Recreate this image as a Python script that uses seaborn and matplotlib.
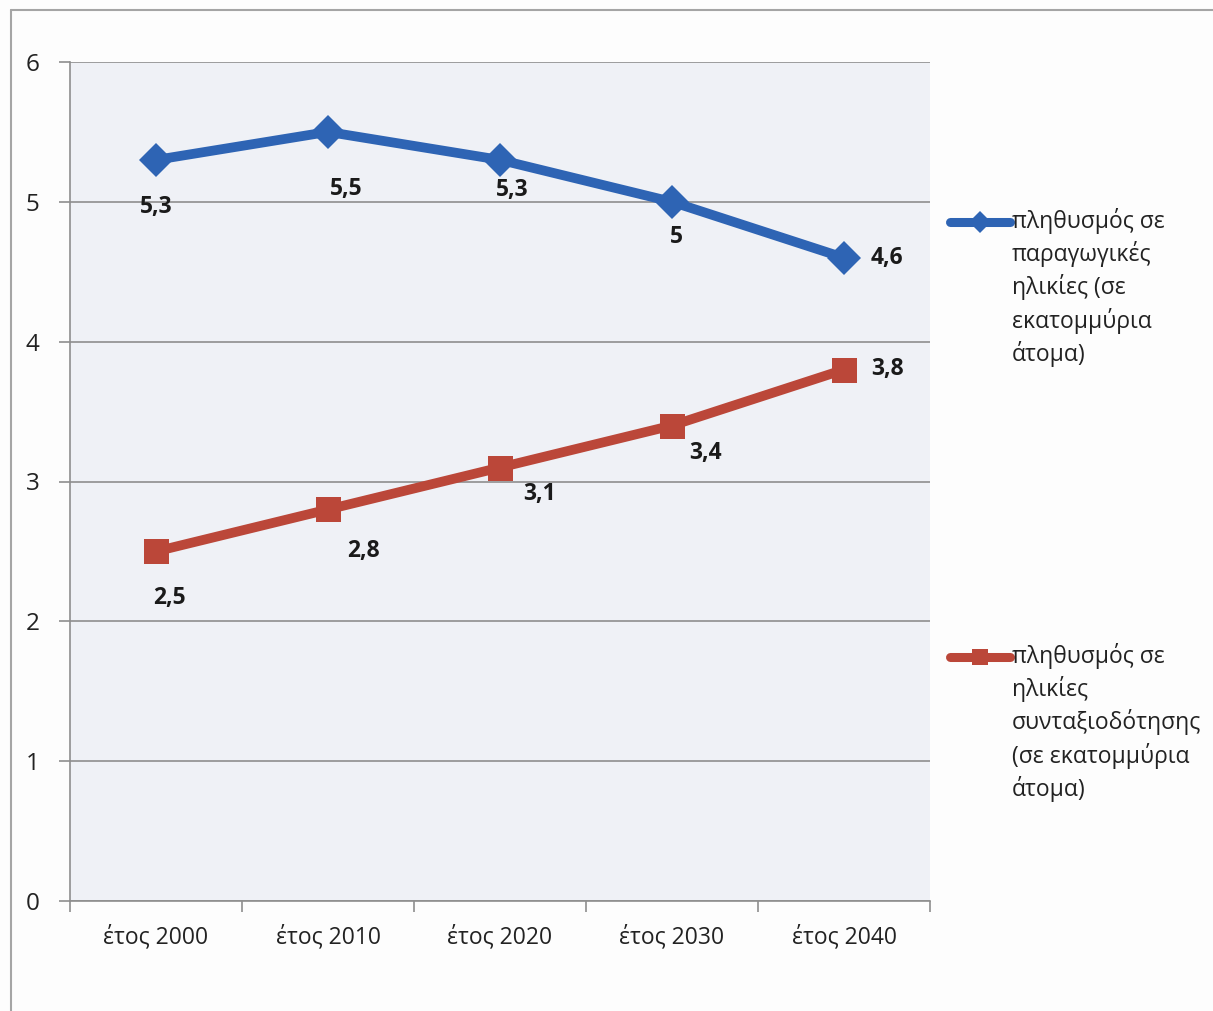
import matplotlib
matplotlib.use("Agg")
import matplotlib.pyplot as plt
import seaborn as sns
from matplotlib.lines import Line2D

# Data
years = ["έτος 2000", "έτος 2010", "έτος 2020", "έτος 2030", "έτος 2040"]
productive = [5.3, 5.5, 5.3, 5.0, 4.6]
pension = [2.5, 2.8, 3.1, 3.4, 3.8]
productive_label = "πληθυσμός σε\nπαραγωγικές\nηλικίες (σε\nεκατομμύρια\nάτομα)"
pension_label = "πληθυσμός σε\nηλικίες\nσυνταξιοδότησης\n(σε εκατομμύρια\nάτομα)"
yticks = [0, 1, 2, 3, 4, 5, 6]

# label offsets in pixels (dx, dy)
productive_offsets = [(0, -47), (18, -57), (12, -30), (4, -35), (43, 0)]
pension_offsets = [(13, -47), (35, -42), (40, -26), (33, -27), (43, 1)]

BLUE = "#2e64b4"
RED = "#bb4739"
GRID = "#8e8e8e"

sns.set_theme(style="white")
plt.rcParams["font.family"] = ["Open Sans", "DejaVu Sans"]

W, H = 1213, 1011
fig = plt.figure(figsize=(W / 100, H / 100), dpi=100, facecolor="#fdfdfd")
ax = fig.add_axes([70 / W, 1 - 901 / H, 860 / W, 839 / H])
ax.set_facecolor("#eff1f6")

sns.lineplot(x=years, y=productive, ax=ax, color=BLUE, lw=7, marker="D",
             markersize=17, markeredgewidth=0, sort=False)
sns.lineplot(x=years, y=pension, ax=ax, color=RED, lw=7, marker="s",
             markersize=18, markeredgewidth=0, sort=False)


def fmt(v):
    return f"{v:g}".replace(".", ",")


for i, (v, off) in enumerate(zip(productive, productive_offsets)):
    ax.annotate(fmt(v), (i, v), xytext=off, textcoords="offset pixels",
                ha="center", va="center", fontsize=16.5, fontweight="bold", color="#1a1a1a")
for i, (v, off) in enumerate(zip(pension, pension_offsets)):
    ax.annotate(fmt(v), (i, v), xytext=off, textcoords="offset pixels",
                ha="center", va="center", fontsize=16.5, fontweight="bold", color="#1a1a1a")

# axes styling
ax.set_xlim(-0.5, 4.5)
ax.set_ylim(0, 6)
ax.set_yticks(yticks)
ax.set_xticks(range(len(years)))
ax.set_xticklabels(years)
ax.set_xticks([i - 0.5 for i in range(len(years) + 1)], minor=True)
ax.tick_params(axis="x", which="major", length=0, pad=17, labelsize=16.5, labelcolor="#222222")
ax.tick_params(axis="x", which="minor", length=8, width=1.2, color=GRID, direction="out", bottom=True)
ax.tick_params(axis="y", length=8, width=1.2, color=GRID, direction="out", left=True,
               pad=14, labelsize=17.5, labelcolor="#222222")
ax.yaxis.grid(True, color=GRID, lw=1.2)
ax.xaxis.grid(False)
ax.set_axisbelow(True)
ax.set_xlabel("")
ax.set_ylabel("")
for side in ["top", "right"]:
    ax.spines[side].set_visible(False)
for side in ["left", "bottom"]:
    ax.spines[side].set_color(GRID)
    ax.spines[side].set_linewidth(1.2)

# legend drawn beside the plot, handle aligned with first line of text
for ypix, color, marker, ms, label in [(222, BLUE, "D", 11, productive_label),
                                       (657, RED, "s", 12, pension_label)]:
    fig.add_artist(Line2D([950 / W, 980 / W, 1010 / W], [1 - ypix / H] * 3,
                          transform=fig.transFigure, color=color, lw=6.5,
                          marker=marker, markersize=ms, markevery=[1],
                          markeredgewidth=0, solid_capstyle="round"))
    fig.text(1012 / W, 1 - (ypix - 14) / H, label, ha="left", va="top",
             fontsize=16.5, color="#222222", linespacing=1.36)

# outer border (top and left)
fig.add_artist(Line2D([11 / W, 11 / W], [0, 1 - 10 / H], transform=fig.transFigure,
                      color="#a5a5a5", lw=1.5))
fig.add_artist(Line2D([11 / W, 1], [1 - 10 / H, 1 - 10 / H], transform=fig.transFigure,
                      color="#a5a5a5", lw=1.5))

fig.savefig("out.png", dpi=100, facecolor=fig.get_facecolor())
